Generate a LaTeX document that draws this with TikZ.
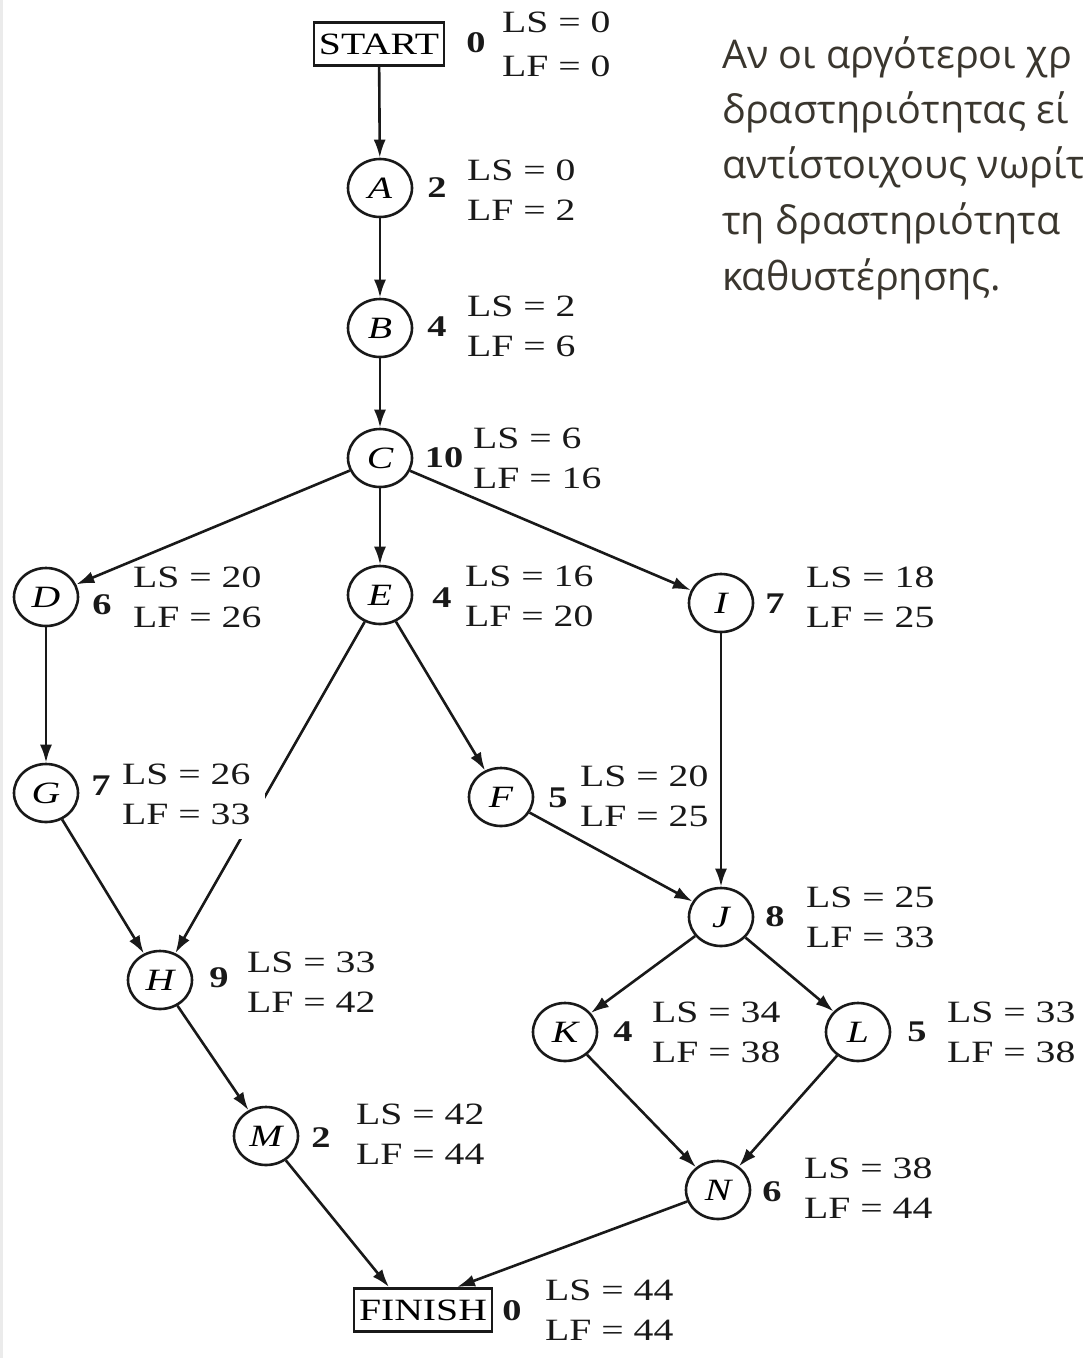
\documentclass[tikz,border=0pt]{standalone}
\usepackage{fontspec}
\usetikzlibrary{shapes.geometric,arrows.meta}
\newfontfamily\tms[FakeStretch=1.28]{Liberation Serif}
\newfontfamily\grkfont{Open Sans}
\definecolor{grktext}{RGB}{58,54,46}
\definecolor{ink}{RGB}{25,25,25}
\tikzset{
  act/.style={ellipse, draw=ink, line width=2.6pt, minimum width=64pt, minimum height=58pt, inner sep=0pt,
              font=\tms\fontsize{31}{31}\selectfont\itshape},
  endbox/.style={rectangle, draw=ink, line width=2.8pt, minimum height=43pt, inner xsep=5pt, inner ysep=0pt,
              font=\tms\fontsize{31}{31}\selectfont},
  dur/.style={inner sep=0pt, text=ink, font=\tms\fontsize{30}{30}\selectfont\bfseries},
  lab/.style={anchor=west, align=left, inner sep=0pt, text=ink, font=\tms\fontsize{31}{40}\selectfont},
  arr/.style={-{Latex[length=18pt,width=12pt]}, draw=ink, line width=2.6pt},
  grk/.style={anchor=base west, inner sep=0pt, text=grktext, font=\grkfont\fontsize{39.5}{39.5}\selectfont}
}
\begin{document}
\begin{tikzpicture}[x=1pt,y=-1pt]
\useasboundingbox (0,0) rectangle (1083,1358);
\fill[white] (0,0) rectangle (1083,1358);
\fill[black!8] (0,0) rectangle (3,1358);

% nodes
\node[endbox] (start) at (379,44) {START};
\node[act] (A) at (380,188) {A};
\node[act] (B) at (380,328) {B};
\node[act] (C) at (380,458) {C};
\node[act] (D) at (46,597) {D};
\node[act] (E) at (380,595) {E};
\node[act] (I) at (721,603) {I};
\node[act] (G) at (46,793) {G};
\node[act] (F) at (501,797) {F};
\node[act] (J) at (721,917) {J};
\node[act] (H) at (160,980) {H};
\node[act] (K) at (565,1032) {K};
\node[act] (L) at (858,1032) {L};
\node[act] (M) at (266,1136) {M};
\node[act] (N) at (718,1190) {N};
\node[endbox] (finish) at (423,1310) {FINISH};

% connectors
\draw[arr] (start) -- (A);
\draw[arr] (A) -- (B);
\draw[arr] (B) -- (C);
\draw[arr] (C) -- (D);
\draw[arr] (C) -- (E);
\draw[arr] (C) -- (I);
\draw[arr] (D) -- (G);
\draw[arr] (E) -- (H);
\draw[arr] (E) -- (F);
\draw[arr] (I) -- (J);
\draw[arr] (G) -- (H);
\draw[arr] (F) -- (J);
\draw[arr] (J) -- (K);
\draw[arr] (J) -- (L);
\draw[arr] (H) -- (M);
\draw[arr] (K) -- (N);
\draw[arr] (L) -- (N);
\draw[arr] (M) -- (finish.146);
\draw[arr] (N) -- (finish.34);

% LS / LF labels
\node[lab, font=\tms\fontsize{31}{44}\selectfont] (lstart) at (502,44) {LS = 0\\LF = 0};
\node[lab] (lA) at (467,190) {LS = 0\\LF = 2};
\node[lab] (lB) at (467,326) {LS = 2\\LF = 6};
\node[lab] (lC) at (473,458) {LS = 6\\LF = 16};
\node[lab] (lD) at (133,597) {LS = 20\\LF = 26};
\node[lab] (lE) at (465,596) {LS = 16\\LF = 20};
\node[lab] (lI) at (806,597) {LS = 18\\LF = 25};
\node[lab, fill=white, inner sep=15pt] (lG) at (107,794) {LS = 26\\LF = 33};
\node[lab] (lF) at (580,796) {LS = 20\\LF = 25};
\node[lab] (lJ) at (806,917) {LS = 25\\LF = 33};
\node[lab] (lH) at (247,982) {LS = 33\\LF = 42};
\node[lab] (lK) at (652,1032) {LS = 34\\LF = 38};
\node[lab] (lL) at (947,1032) {LS = 33\\LF = 38};
\node[lab] (lM) at (356,1134) {LS = 42\\LF = 44};
\node[lab] (lN) at (804,1188) {LS = 38\\LF = 44};
\node[lab] (lfinish) at (545,1310) {LS = 44\\LF = 44};

% durations
\node[dur] (dstart) at (476,43) {0};
\node[dur] (dA) at (437,188) {2};
\node[dur] (dB) at (437,327) {4};
\node[dur] (dC) at (444,458) {10};
\node[dur] (dD) at (102,605) {6};
\node[dur] (dE) at (442,598) {4};
\node[dur] (dI) at (775,604) {7};
\node[dur] (dG) at (101,786) {7};
\node[dur] (dF) at (558,798) {5};
\node[dur] (dJ) at (775,917) {8};
\node[dur] (dH) at (219,978) {9};
\node[dur] (dK) at (623,1032) {4};
\node[dur] (dL) at (917,1032) {5};
\node[dur] (dM) at (321,1138) {2};
\node[dur] (dN) at (772,1192) {6};
\node[dur] (dfinish) at (512,1311) {0};

% Greek text (cut at the right edge)
\begin{scope}
\clip (0,0) rectangle (1083,1358);
\node[grk] (t1) at (722,68) {Αν οι αργότεροι χρ};
\node[grk] (t2) at (722,123) {δραστηριότητας εί};
\node[grk] (t3) at (722,178) {αντίστοιχους νωρίτ};
\node[grk] (t4) at (722,234) {τη δραστηριότητα};
\node[grk] (t5) at (722,290) {καθυστέρησης.};
\end{scope}
\end{tikzpicture}
\end{document}
